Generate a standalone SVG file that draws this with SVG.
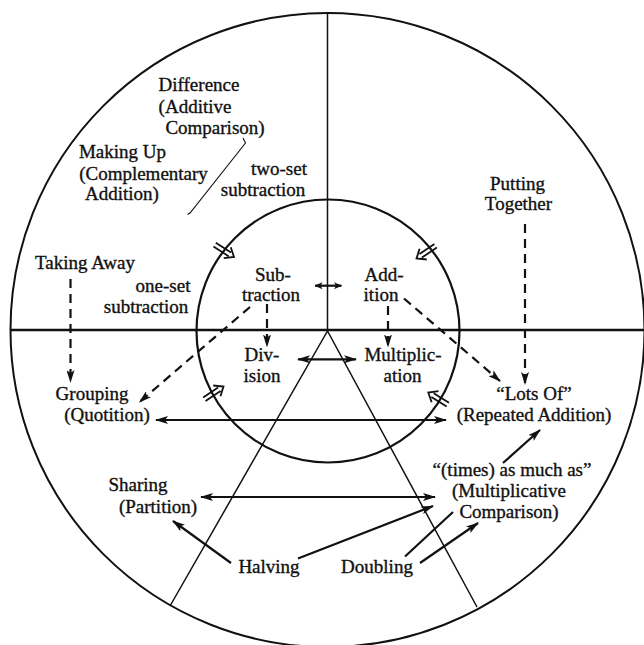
<svg xmlns="http://www.w3.org/2000/svg" xmlns:xlink="http://www.w3.org/1999/xlink" width="644" height="645" viewBox="0 0 644 645">
<style>
text{font-family:"Liberation Serif","Times New Roman",serif;font-size:19px;fill:#111;stroke:#111;stroke-width:0.35;text-anchor:middle}
.frame{fill:none;stroke:#111}
.c{fill:none;stroke:#111;stroke-width:2.2}
.d{fill:none;stroke:#111;stroke-width:2.2;stroke-dasharray:9 6}
.t{fill:none;stroke:#111;stroke-width:1.1}
.h{fill:none;stroke:#111;stroke-width:1.8}
</style>
<defs>
<marker id="ah" viewBox="0 0 13 8" refX="12" refY="4" markerWidth="13" markerHeight="8" orient="auto-start-reverse" markerUnits="userSpaceOnUse">
<path d="M0,0 L13,4 L0,8 L3,4 z" fill="#111"/>
</marker>
<marker id="as" viewBox="0 0 8 7" refX="7.5" refY="3.5" markerWidth="8" markerHeight="7" orient="auto-start-reverse" markerUnits="userSpaceOnUse">
<path d="M0,0 L8,3.5 L0,7 L2,3.5 z" fill="#111"/>
</marker>
<g id="ha">
<path class="h" d="M-23,-2.2 L-5,-2.2 M-23,2.2 L-5,2.2 M-8,-6.5 L0,0 L-8,6.5"/>
</g>
</defs>
<rect width="644" height="645" fill="#fff"/>
<g id="frame">
<circle class="frame" cx="327.5" cy="330" r="317" stroke-width="2"/>
<circle class="frame" cx="328" cy="331" r="131.5" stroke-width="2.2"/>
<line class="frame" x1="327.5" y1="12" x2="327.5" y2="331" stroke-width="1.5"/>
<line class="frame" x1="10" y1="330" x2="644" y2="330" stroke-width="2.6"/>
<polyline class="frame" points="170,606 327.5,331 477,607" stroke-width="1.5"/>
</g>
<g id="connectors">
<path class="c" d="M315,285.7 L341.5,285.7" marker-start="url(#as)" marker-end="url(#as)" stroke-width="1.8"/>
<path class="c" d="M298,359.3 L356,359.3" marker-start="url(#ah)" marker-end="url(#ah)"/>
<path class="c" d="M156,420 L446,420" marker-start="url(#ah)" marker-end="url(#ah)" stroke-width="2.6"/>
<path class="c" d="M201,497 L435,497" marker-start="url(#ah)" marker-end="url(#ah)" stroke-width="2.6"/>
<path class="d" d="M70.5,279 L70.5,382" marker-end="url(#ah)"/>
<path class="d" d="M525,224 L525,384" marker-end="url(#ah)"/>
<path class="d" d="M267,304 L267,346.5" marker-end="url(#ah)" stroke-dasharray="7 5"/>
<path class="d" d="M388,306 L388,346.5" marker-end="url(#ah)" stroke-dasharray="7 5"/>
<path class="d" d="M250,307 L139.5,402" marker-end="url(#ah)"/>
<path class="d" d="M404,298.5 L500,381" marker-end="url(#ah)"/>
<path class="c" d="M231,563 L173,521" marker-end="url(#ah)"/>
<path class="c" d="M298,558.5 L433,506" marker-end="url(#ah)"/>
<path class="c" d="M405,556.5 L453,512"/>
<path class="c" d="M420,563 L478,523" marker-end="url(#ah)"/>
<path class="c" d="M503,463 L540,430" marker-end="url(#ah)"/>
<path class="t" d="M243,138 L245.5,143 L190,213 L187.5,214.5"/>
<use xlink:href="#ha" href="#ha" transform="translate(234,257) rotate(32.6)"/>
<use xlink:href="#ha" href="#ha" transform="translate(416.5,258.5) rotate(146.4)"/>
<use xlink:href="#ha" href="#ha" transform="translate(223.5,386.5) rotate(-33.6)"/>
<use xlink:href="#ha" href="#ha" transform="translate(428.3,392.5) rotate(-148)"/>
</g>
<g id="n-difference"><text x="199" y="91">Difference</text><text x="195" y="112.5">(Additive</text><text x="215" y="133.5">Comparison)</text></g>
<g id="n-making-up"><text x="122.5" y="158">Making Up</text><text x="143.5" y="179.5">(Complementary</text><text x="122" y="200">Addition)</text></g>
<g id="n-two-set"><text x="279" y="174.5">two-set</text><text x="263" y="195.5">subtraction</text></g>
<g id="n-putting-together"><text x="517.5" y="190">Putting</text><text x="518.5" y="210">Together</text></g>
<g id="n-taking-away"><text x="85" y="269">Taking Away</text></g>
<g id="n-one-set"><text x="163" y="292">one-set</text><text x="146" y="313">subtraction</text></g>
<g id="n-subtraction"><text x="273" y="280.5">Sub-</text><text x="271" y="301">traction</text></g>
<g id="n-addition"><text x="384" y="280.5">Add-</text><text x="381" y="301">ition</text></g>
<g id="n-division"><text x="262" y="361">Div-</text><text x="262" y="382">ision</text></g>
<g id="n-multiplication"><text x="403" y="361">Multiplic-</text><text x="402.5" y="382">ation</text></g>
<g id="n-grouping"><text x="92" y="400">Grouping</text><text x="107" y="421">(Quotition)</text></g>
<g id="n-lots-of"><text x="534" y="400">“Lots Of”</text><text x="534" y="421">(Repeated Addition)</text></g>
<g id="n-times"><text x="512" y="476">“(times) as much as”</text><text x="509" y="497">(Multiplicative</text><text x="509" y="518">Comparison)</text></g>
<g id="n-sharing"><text x="138" y="491">Sharing</text><text x="158" y="512.5">(Partition)</text></g>
<g id="n-halving"><text x="269" y="573">Halving</text></g>
<g id="n-doubling"><text x="377" y="573">Doubling</text></g>
</svg>
